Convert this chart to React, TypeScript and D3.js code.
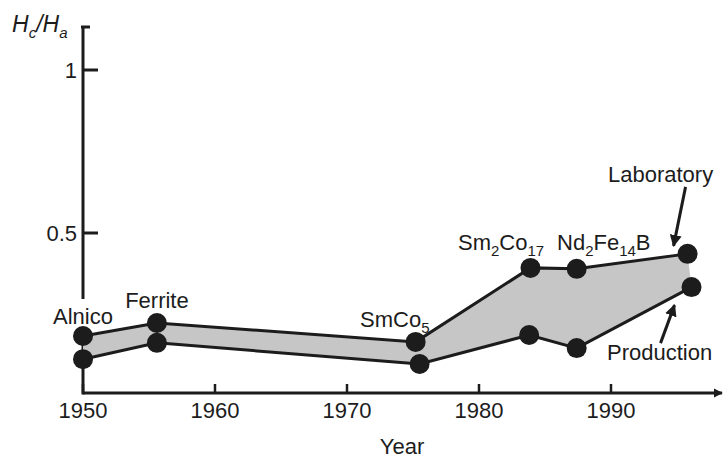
import React from 'react';
import * as d3 from 'd3';

// Upper edge of the band (laboratory best) and lower edge (production)
const labYears = [1950, 1955.6, 1975.2, 1983.9, 1987.4, 1995.8];
const labValues = [0.184, 0.224, 0.166, 0.393, 0.39, 0.436];
const prodYears = [1950, 1955.6, 1975.5, 1983.8, 1987.4, 1996.1];
const prodValues = [0.113, 0.163, 0.098, 0.187, 0.147, 0.334];

const xTicks = [1950, 1960, 1970, 1980, 1990];
const yTicks = [1, 0.5];
const yTickLabels = ['1', '0.5'];

const W = 728;
const H = 459;
const ink = '#1c1c1c';
const font = '"Liberation Sans", Arial, Helvetica, sans-serif';

export default function App() {
  const x = d3.scaleLinear().domain([1950, 1990]).range([83, 611]);
  const y = d3.scaleLinear().domain([0, 1]).range([396, 70]);
  const axisY = 393;

  const upper = labYears.map((yr, i) => [x(yr), y(labValues[i])] as [number, number]);
  const lower = prodYears.map((yr, i) => [x(yr), y(prodValues[i])] as [number, number]);

  const line = d3.line();
  const band = line([...upper, ...lower.slice().reverse()]) + 'Z';

  const labPt = upper[upper.length - 1];
  const prodPt = lower[lower.length - 1];

  const sub = (t: string) => (
    <tspan fontSize={15} dy={6}>{t}</tspan>
  );
  const up = (t: string) => <tspan dy={-6}>{t}</tspan>;

  return (
    <svg
      width={W}
      height={H}
      style={{ position: 'absolute', left: 0, top: 0, background: '#fff' }}
      fontFamily={font}
      fill={ink}
    >
      <defs>
        <marker id="ah" viewBox="0 0 10 10" refX="9" refY="5" markerWidth="4" markerHeight="4" orient="auto">
          <path d="M0,0L10,5L0,10Z" fill={ink} />
        </marker>
        <marker id="axh" viewBox="0 0 10 10" refX="9" refY="5" markerWidth="3" markerHeight="3.5" orient="auto">
          <path d="M0,0L10,5L0,10Z" fill={ink} />
        </marker>
      </defs>

      {/* y axis */}
      <line x1={83} x2={83} y1={27} y2={axisY + 1.5} stroke={ink} strokeWidth={3} />
      <line x1={81} x2={90} y1={27} y2={27} stroke={ink} strokeWidth={3} />
      {yTicks.map((t, i) => (
        <g key={t}>
          <line x1={83} x2={98} y1={y(t)} y2={y(t)} stroke={ink} strokeWidth={3} />
          <text x={77} y={y(t) + 8} fontSize={22} textAnchor="end">{yTickLabels[i]}</text>
        </g>
      ))}
      <text x={12} y={32} fontSize={23} fontStyle="italic">
        H{sub('c')}{up('/H')}{sub('a')}
      </text>

      {/* x axis */}
      <line x1={83} x2={722} y1={axisY} y2={axisY} stroke={ink} strokeWidth={3} markerEnd="url(#axh)" />
      {xTicks.map(t => (
        <g key={t}>
          <line x1={x(t)} x2={x(t)} y1={axisY} y2={axisY - 9} stroke={ink} strokeWidth={2.5} />
          <text x={x(t)} y={418} fontSize={22} textAnchor="middle">{t}</text>
        </g>
      ))}
      <text x={402} y={454} fontSize={22} textAnchor="middle">Year</text>

      {/* band */}
      <path d={band} fill="#c6c6c6" stroke="none" />
      <path d={line(upper) || ''} fill="none" stroke={ink} strokeWidth={3} />
      <path d={line(lower) || ''} fill="none" stroke={ink} strokeWidth={3} />

      {/* labels */}
      <rect x={50} y={299} width={66} height={28} fill="#fff" />
      <text x={x(1950)} y={324} fontSize={22} textAnchor="middle">Alnico</text>
      <text x={x(1955.6)} y={308} fontSize={22} textAnchor="middle">Ferrite</text>
      <text x={360} y={327} fontSize={22}>SmCo{sub('5')}</text>
      <text x={458} y={250} fontSize={22}>Sm{sub('2')}{up('Co')}{sub('17')}</text>
      <text x={557} y={250} fontSize={22}>Nd{sub('2')}{up('Fe')}{sub('14')}{up('B')}</text>
      <text x={608} y={182} fontSize={22}>Laboratory</text>
      <text x={607} y={360} fontSize={22}>Production</text>

      {/* annotation arrows */}
      <line x1={labPt[0] - 2} y1={labPt[1] - 67} x2={labPt[0] - 14} y2={labPt[1] - 8}
        stroke={ink} strokeWidth={3} markerEnd="url(#ah)" />
      <line x1={prodPt[0] - 31} y1={prodPt[1] + 56} x2={prodPt[0] - 17} y2={prodPt[1] + 18}
        stroke={ink} strokeWidth={3} markerEnd="url(#ah)" />

      {/* points */}
      {[...upper, ...lower].map((p, i) => (
        <circle key={i} cx={p[0]} cy={p[1]} r={10} fill={ink} />
      ))}
    </svg>
  );
}
